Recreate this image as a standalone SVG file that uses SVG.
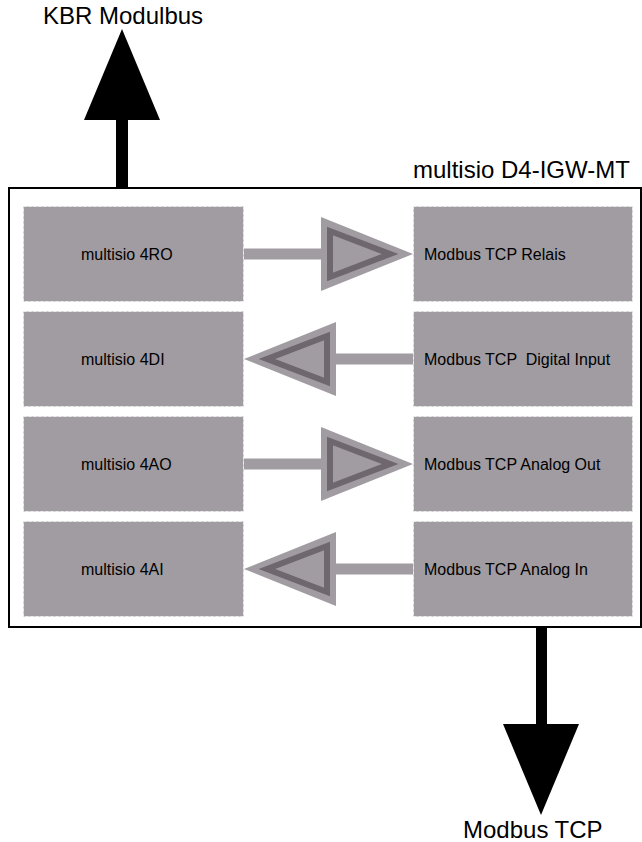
<svg xmlns="http://www.w3.org/2000/svg" width="642" height="842" viewBox="0 0 642 842">
<style>
  .lbl { font-family: "Liberation Sans", Arial, sans-serif; font-size: 24px; fill: #000; }
  .nt { font-family: "Liberation Sans", Arial, sans-serif; font-size: 16px; fill: #000; white-space: pre; }
  .box { fill: #a19ca1; stroke: #ececec; stroke-width: 1; stroke-dasharray: 3 2; }
  .link { stroke: #a19ca1; stroke-width: 11; fill: none; }
  .head { fill: #a19ca1; }
  .headin { fill: none; stroke: #6f676e; stroke-width: 6; stroke-linejoin: miter; }
  .big { fill: #000; }
</style>
<rect width="642" height="842" fill="#fff"/>
<g id="container">
  <rect x="9" y="188" width="632" height="439" fill="#fff" stroke="#000" stroke-width="2"/>
  <text class="lbl" x="413" y="178">multisio D4-IGW-MT</text>
</g>
<g id="kbr-label"><text class="lbl" x="43" y="24">KBR Modulbus</text></g>
<g id="modbus-label"><text class="lbl" x="463" y="838">Modbus TCP</text></g>
<g id="n-4ro"><rect class="box" x="23.5" y="206.5" width="220" height="95"/><text class="nt" x="81" y="259.5">multisio 4RO</text></g>
<g id="n-4di"><rect class="box" x="23.5" y="311.5" width="220" height="95"/><text class="nt" x="81" y="364.5">multisio 4DI</text></g>
<g id="n-4ao"><rect class="box" x="23.5" y="416.5" width="220" height="95"/><text class="nt" x="81" y="469.5">multisio 4AO</text></g>
<g id="n-4ai"><rect class="box" x="23.5" y="521.5" width="220" height="95"/><text class="nt" x="81" y="574.5">multisio 4AI</text></g>
<g id="n-relais"><rect class="box" x="413.5" y="206.5" width="219" height="95"/><text class="nt" x="424" y="259.5">Modbus TCP Relais</text></g>
<g id="n-di"><rect class="box" x="413.5" y="311.5" width="219" height="95"/><text class="nt" x="424" y="364.5" xml:space="preserve">Modbus TCP  Digital Input</text></g>
<g id="n-ao"><rect class="box" x="413.5" y="416.5" width="219" height="95"/><text class="nt" x="424" y="469.5">Modbus TCP Analog Out</text></g>
<g id="n-ai"><rect class="box" x="413.5" y="521.5" width="219" height="95"/><text class="nt" x="424" y="574.5">Modbus TCP Analog In</text></g>
<g id="connectors">
  <rect class="big" x="116" y="118" width="12" height="70"/>
  <polygon class="big" points="84,120 160,120 122,29"/>
  <rect class="big" x="536" y="627" width="11" height="99"/>
  <polygon class="big" points="503,724 579,724 541,815"/>
  <!-- row 1 -->
  <line class="link" x1="244" y1="254" x2="322" y2="254"/>
  <polygon class="head" points="321,217 321,291 413,254"/>
  <polygon class="headin" points="330,231 330,277 390,254"/>
  <!-- row 2 -->
  <line class="link" x1="413" y1="359" x2="335" y2="359"/>
  <polygon class="head" points="336,322 336,396 244,359"/>
  <polygon class="headin" points="327,336 327,382 267,359"/>
  <!-- row 3 -->
  <line class="link" x1="244" y1="464" x2="322" y2="464"/>
  <polygon class="head" points="321,427 321,501 413,464"/>
  <polygon class="headin" points="330,441 330,487 390,464"/>
  <!-- row 4 -->
  <line class="link" x1="413" y1="569" x2="335" y2="569"/>
  <polygon class="head" points="336,532 336,606 244,569"/>
  <polygon class="headin" points="327,546 327,592 267,569"/>
</g>
</svg>
